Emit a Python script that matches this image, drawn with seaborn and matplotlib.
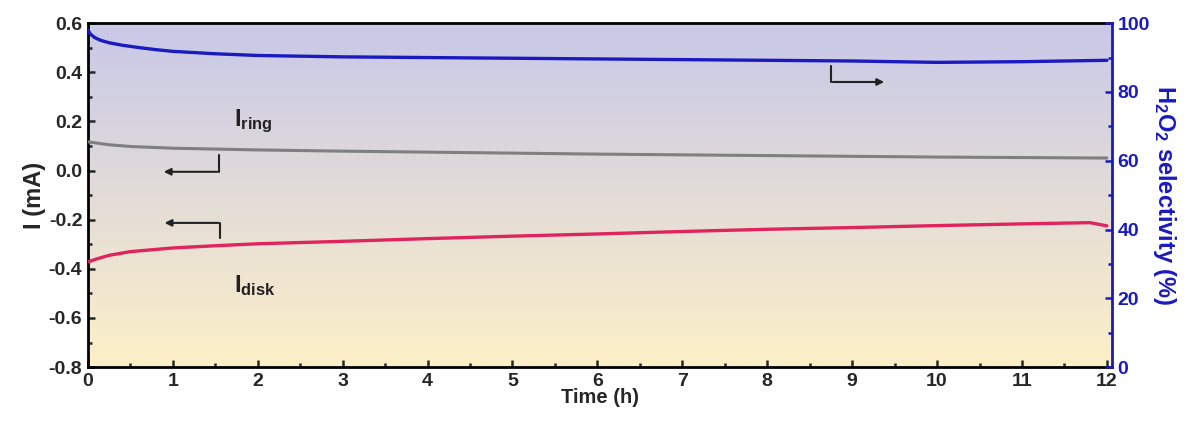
import numpy as np
import pandas as pd
import matplotlib
matplotlib.use("Agg")
import matplotlib.pyplot as plt
import seaborn as sns
from matplotlib.ticker import MultipleLocator

sns.set_style("ticks")
plt.rcParams['font.family'] = ['Liberation Sans', 'DejaVu Sans']
plt.rcParams['font.weight'] = 'bold'
plt.rcParams['axes.unicode_minus'] = False
plt.rcParams['mathtext.fontset'] = 'custom'
plt.rcParams['mathtext.bf'] = 'Liberation Sans:bold'
plt.rcParams['mathtext.rm'] = 'Liberation Sans:bold'
plt.rcParams['mathtext.it'] = 'Liberation Sans:bold'

# selectivity (right axis, %)
sel_time = [0, 0.03, 0.08, 0.15, 0.25, 0.4, 0.6, 0.8, 1.0, 1.5, 2, 3, 4, 5, 6, 7, 8, 9, 10, 11, 12]
sel_vals = [98.0, 96.8, 95.8, 95.0, 94.3, 93.6, 92.9, 92.3, 91.8, 91.1, 90.6, 90.2, 90.0, 89.8, 89.6, 89.4, 89.2, 89.0, 88.6, 88.8, 89.2]

# ring current (mA)
ring_time = [0, 0.25, 0.5, 1, 2, 3, 4, 5, 6, 7, 8, 9, 10, 11, 12]
ring_vals = [0.117, 0.105, 0.098, 0.091, 0.084, 0.079, 0.075, 0.071, 0.067, 0.064, 0.061, 0.058, 0.055, 0.053, 0.051]

# disk current (mA)
disk_time = [0, 0.1, 0.25, 0.5, 1, 1.5, 2, 3, 4, 5, 6, 7, 8, 9, 10, 11, 11.8, 12]
disk_vals = [-0.372, -0.360, -0.345, -0.330, -0.315, -0.306, -0.298, -0.288, -0.277, -0.267,
             -0.258, -0.248, -0.239, -0.232, -0.224, -0.217, -0.212, -0.225]

sel_df = pd.DataFrame({'Time': sel_time, 'Selectivity': sel_vals})
ring_df = pd.DataFrame({'Time': ring_time, 'I': ring_vals})
disk_df = pd.DataFrame({'Time': disk_time, 'I': disk_vals})

blue = '#1a1ac0'
fig = plt.figure(figsize=(11.88, 4.21), dpi=100)
ax = fig.add_axes([0.074, 0.128, 0.862, 0.817])

# background gradient lavender -> pale yellow
grad = np.linspace(0, 1, 256).reshape(-1, 1)
top = np.array([200, 200, 232]) / 255
bot = np.array([253, 240, 200]) / 255
img = top[None, None, :] * (1 - grad[:, :, None]) + bot[None, None, :] * grad[:, :, None]
ax.imshow(img, extent=[0, 1, 0, 1], transform=ax.transAxes, aspect='auto', zorder=0)

sns.lineplot(data=ring_df, x='Time', y='I', ax=ax, color='#7f7f7f', lw=2.2, zorder=3)
sns.lineplot(data=disk_df, x='Time', y='I', ax=ax, color='#e0245e', lw=2.4, zorder=3)
ax.set_xlim(0, 12.06)
ax.set_ylim(-0.8, 0.6)
ax.xaxis.set_major_locator(MultipleLocator(1))
ax.xaxis.set_minor_locator(MultipleLocator(0.5))
ax.yaxis.set_major_locator(MultipleLocator(0.2))
ax.yaxis.set_minor_locator(MultipleLocator(0.1))
ax.tick_params(which='both', direction='in', width=1.8, labelsize=14, top=False)
ax.tick_params(which='major', length=5, pad=4)
ax.tick_params(which='minor', length=3)
ax.set_xlabel('Time (h)', fontsize=14.5, fontweight='bold', labelpad=-1)
ax.set_ylabel('I (mA)', fontsize=17, fontweight='bold', labelpad=2)
for s in ['left', 'bottom', 'top']:
    ax.spines[s].set_linewidth(2)
    ax.spines[s].set_color('black')

ax2 = ax.twinx()
sns.lineplot(data=sel_df, x='Time', y='Selectivity', ax=ax2, color=blue, lw=2.4, zorder=3)
ax2.set_ylim(0, 100)
ax2.yaxis.set_major_locator(MultipleLocator(20))
ax2.yaxis.set_minor_locator(MultipleLocator(10))
ax2.tick_params(which='both', direction='in', width=1.8, labelsize=14, colors=blue)
ax2.tick_params(which='major', length=5, pad=4)
ax2.tick_params(which='minor', length=3)
for lab in ax2.get_yticklabels():
    lab.set_fontweight('bold')
ax2.set_ylabel(r'H$_2$O$_2$ selectivity (%)', fontsize=17, fontweight='bold', color=blue,
               rotation=270, labelpad=20)
ax2.spines['right'].set_color(blue)
ax2.spines['right'].set_linewidth(2)
for s in ['left', 'bottom', 'top']:
    ax2.spines[s].set_visible(False)

# annotations
ax.text(1.72, 0.2, r'$\mathbf{I_{ring}}$', fontsize=17, color='#222222', va='center')
ax.text(1.72, -0.47, r'$\mathbf{I_{disk}}$', fontsize=17, color='#222222', va='center')
arrow_kw = dict(arrowstyle='-|>', color='#222222', lw=1.5, mutation_scale=10)
ax.plot([1.545, 1.545], [0.062, -0.005], color='#222222', lw=1.5)
ax.annotate('', xy=(0.86, -0.005), xytext=(1.555, -0.005), arrowprops=arrow_kw)
ax.plot([1.56, 1.56], [-0.275, -0.213], color='#222222', lw=1.5)
ax.annotate('', xy=(0.87, -0.213), xytext=(1.57, -0.213), arrowprops=arrow_kw)
ax2.plot([8.75, 8.75], [87.4, 82.9], color='#222222', lw=1.5)
ax2.annotate('', xy=(9.41, 82.9), xytext=(8.74, 82.9), arrowprops=arrow_kw)

for lab in ax.get_xticklabels() + ax.get_yticklabels():
    lab.set_fontweight('bold')

fig.savefig('out.png', dpi=100)
